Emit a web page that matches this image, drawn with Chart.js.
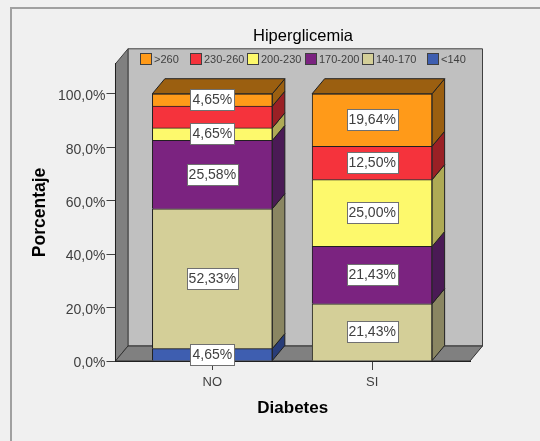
<!DOCTYPE html>
<html><head><meta charset="utf-8">
<style>html,body{margin:0;padding:0;background:#f0f0f0}canvas{display:block}</style>
<script src="https://cdn.jsdelivr.net/npm/chart.js@4"></script></head>
<body><canvas id="c" width="540" height="441"></canvas>
<script>
const categories = ['NO', 'SI'];
const seriesNames = ['<140', '140-170', '170-200', '200-230', '230-260', '>260'];
const below140 = [4.65, 0];
const from140 = [52.33, 21.43];
const from170 = [25.58, 21.43];
const from200 = [4.65, 25.00];
const from230 = [8.14, 12.50];
const above260 = [4.65, 19.64];
const labelled = [[true, false], [true, true], [true, true], [true, true], [false, true], [true, true]];
const faceColors = ['#3e5eb0', '#d4cf98', '#7b2380', '#fdf96c', '#f5333c', '#ff9a19'];
const sideColors = ['#283c78', '#8a8662', '#4a1a55', '#aeaa55', '#9a2025', '#9b5f10'];
const yTicks = [0, 20, 40, 60, 80, 100];

const DX = 12.5, DY = 15, TXT = '#404040', FONT = '"Liberation Sans", Arial, sans-serif';
const series = [below140, from140, from170, from200, from230, above260];
const legendX = [140, 190, 247, 305, 362, 427];
const titleCenterX = 303;

function poly(ctx, pts, fill, stroke, lw) {
  ctx.beginPath();
  pts.forEach((p, i) => i ? ctx.lineTo(p[0], p[1]) : ctx.moveTo(p[0], p[1]));
  ctx.closePath();
  ctx.fillStyle = fill; ctx.fill();
  ctx.strokeStyle = stroke; ctx.lineWidth = lw || 1; ctx.stroke();
}
const scene = {
  id: 'scene',
  afterLayout(chart) {
    const t = chart.titleBlock, shift = titleCenterX - (t.left + t.right) / 2;
    t.left += shift; t.right += shift;
  },
  beforeDraw(chart) {
    const ctx = chart.ctx, a = chart.chartArea;
    ctx.save();
    ctx.strokeStyle = '#a0a0a0'; ctx.lineWidth = 2;
    ctx.strokeRect(11, 8, 560, 470);
    const L = a.left, R = a.right, T = a.top, B = a.bottom;
    poly(ctx, [[L + DX, T - DY], [R + DX, T - DY], [R + DX, B - DY], [L + DX, B - DY]], '#c0c0c0', '#404040');
    poly(ctx, [[L, B], [L + DX, B - DY], [L + DX, T - DY], [L, T]], '#808080', '#404040');
    poly(ctx, [[L, B], [L + DX, B - DY], [R + DX, B - DY], [R, B]], '#808080', '#303030');
    ctx.textBaseline = 'middle'; ctx.textAlign = 'left'; ctx.font = '11px ' + FONT;
    for (let k = 0; k < 6; k++) {
      const i = 5 - k, x = legendX[k];
      ctx.fillStyle = faceColors[i]; ctx.strokeStyle = '#404040'; ctx.lineWidth = 1;
      ctx.fillRect(x + .5, 53.5, 11, 11); ctx.strokeRect(x + .5, 53.5, 11, 11);
      ctx.fillStyle = TXT;
      ctx.fillText(seriesNames[i], x + 14, 59.5);
    }
    ctx.restore();
  },
  afterDatasetsDraw(chart) {
    const ctx = chart.ctx;
    ctx.save();
    const n = chart.data.datasets.length;
    for (let j = 0; j < categories.length; j++) {
      let topBar = null, topIdx = 0;
      for (let i = 0; i < n; i++) {
        const b = chart.getDatasetMeta(i).data[j];
        if (!series[i][j]) continue;
        const r = b.x + b.width / 2;
        poly(ctx, [[r, b.y], [r + DX, b.y - DY], [r + DX, b.base - DY], [r, b.base]], sideColors[i], '#202020');
        topBar = b; topIdx = i;
      }
      const l = topBar.x - topBar.width / 2, r = topBar.x + topBar.width / 2, y = topBar.y;
      poly(ctx, [[l, y], [l + DX, y - DY], [r + DX, y - DY], [r, y]], sideColors[topIdx], '#202020');
    }
    ctx.font = '14px ' + FONT; ctx.textAlign = 'center'; ctx.textBaseline = 'middle';
    for (let i = 0; i < n; i++) for (let j = 0; j < categories.length; j++) {
      if (!labelled[i][j]) continue;
      const b = chart.getDatasetMeta(i).data[j];
      const txt = series[i][j].toFixed(2).replace('.', ',') + '%';
      const w = Math.round(ctx.measureText(txt).width) + 4, h = 21;
      const cy = Math.round((b.y + b.base) / 2), x0 = Math.round(b.x - w / 2) + .5, y0 = cy - 10.5;
      ctx.fillStyle = '#ffffff'; ctx.strokeStyle = '#707070'; ctx.lineWidth = 1;
      ctx.fillRect(x0, y0, w, h); ctx.strokeRect(x0, y0, w, h);
      ctx.fillStyle = TXT; ctx.fillText(txt, b.x, cy + .5);
    }
    ctx.restore();
  }
};

new Chart(document.getElementById('c'), {
  type: 'bar',
  data: {
    datasets: series.map((vals, i) => ({
      label: seriesNames[i],
      data: vals.map((v, j) => ({ x: j, y: v })),
      backgroundColor: faceColors[i],
      borderColor: '#202020',
      borderWidth: 1,
      barThickness: 120
    }))
  },
  options: {
    responsive: false, animation: false,
    layout: { padding: { left: 30, right: 70, top: 0, bottom: 22.5 } },
    plugins: {
      legend: { display: false }, tooltip: { enabled: false },
      title: { display: true, text: 'Hiperglicemia', color: '#000', font: { family: FONT, size: 16.5, weight: 'normal' }, padding: { top: 27, bottom: 17 } }
    },
    scales: {
      x: {
        type: 'linear', stacked: true, offset: false, min: -0.60625, max: 1.6125,
        grid: { display: true, offset: false, drawOnChartArea: false, tickLength: 9, color: '#404040' },
        border: { color: '#202020' },
        ticks: { stepSize: 1, includeBounds: false, color: TXT, font: { family: FONT, size: 13 }, padding: 5, maxRotation: 0,
                 callback: v => categories[v] ?? '' },
        title: { display: true, text: 'Diabetes', color: '#000', font: { family: FONT, size: 17, weight: 'bold' }, padding: { top: 2.5, bottom: 0 } }
      },
      y: {
        stacked: true, min: 0, max: 111.2,
        grid: { display: true, drawOnChartArea: false, tickLength: 9, color: '#404040' },
        border: { color: '#202020' },
        afterBuildTicks: s => { s.ticks = yTicks.map(value => ({ value })); },
        ticks: { color: TXT, font: { family: FONT, size: 14 }, padding: 1, labelOffset: 2.5,
                 callback: v => v.toFixed(1).replace('.', ',') + '%' },
        title: { display: true, text: 'Porcentaje', color: '#000', font: { family: FONT, size: 17.5, weight: 'bold' }, padding: { top: 0, bottom: 6 } }
      }
    }
  },
  plugins: [scene]
});
</script></body></html>
